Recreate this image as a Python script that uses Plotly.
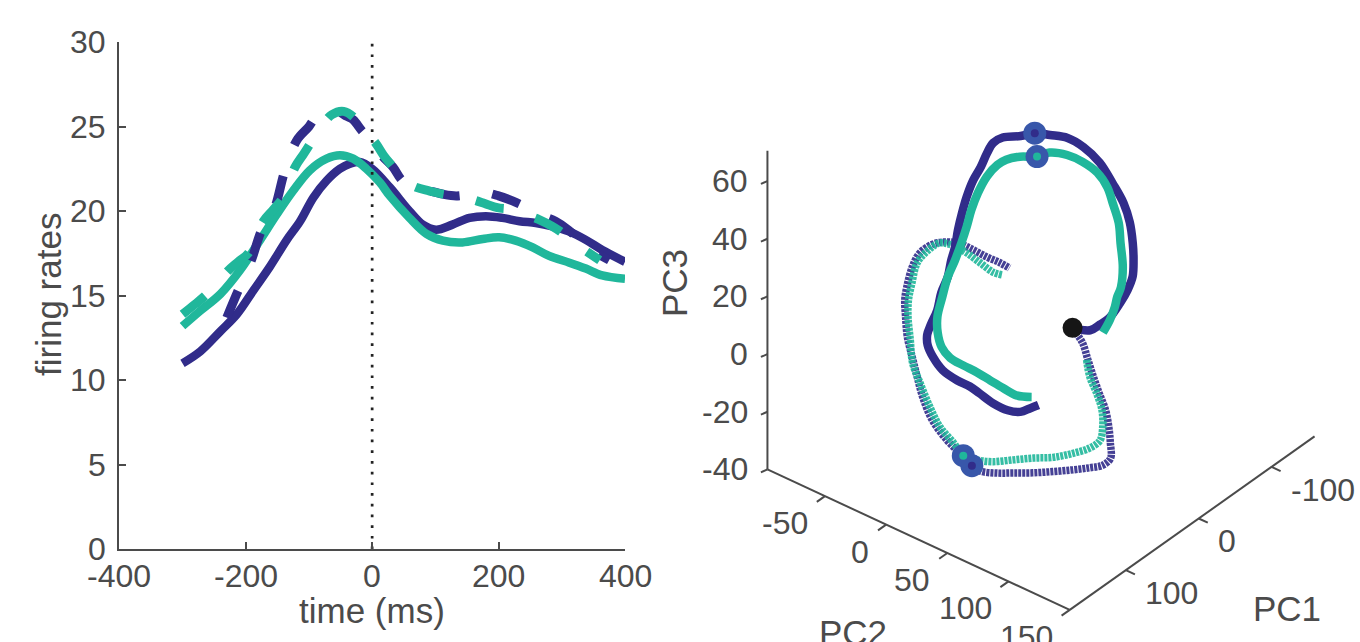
import numpy as np
import plotly.graph_objects as go

# ======================= LEFT PANEL DATA (firing rates) =======================
t_blue_solid = [-300, -272, -240, -214, -188, -162, -135, -114, -93, -72, -51, -35, -20, 0,
                28, 59, 80, 101, 127, 154, 180, 206, 233, 259, 285, 311, 338, 364, 400]
fr_blue_solid = [11.0, 11.7, 12.9, 13.9, 15.3, 16.7, 18.3, 19.4, 20.8, 21.8, 22.5, 22.8, 22.9, 22.5,
                 21.4, 20.0, 19.2, 18.9, 19.2, 19.6, 19.7, 19.6, 19.4, 19.3, 19.1, 18.8, 18.3, 17.7, 17.0]

t_teal_solid = [-300, -272, -240, -209, -177, -151, -125, -99, -72, -51, -30, -9, 12, 28,
                59, 86, 112, 143, 175, 201, 227, 254, 280, 312, 338, 364, 400]
fr_teal_solid = [13.2, 14.1, 15.1, 16.5, 18.3, 19.8, 21.2, 22.4, 23.1, 23.3, 23.1, 22.5, 21.7, 20.9,
                 19.6, 18.65, 18.25, 18.15, 18.35, 18.45, 18.25, 17.85, 17.35, 16.95, 16.6, 16.2, 16.0]

t_teal_dash = [-300, -280, -264, -245, -230, -212, -196, -184, -172, -156, -141, -122, -108, -96,
               -80, -64, -45, -25, -10, 4, 18, 33, 50, 70, 90, 112, 135, 157, 178, 198, 220,
               243, 264, 285, 305, 320, 340, 360]
fr_teal_dash = [13.9, 14.5, 15.0, 15.7, 16.4, 17.0, 17.5, 18.5, 19.4, 20.1, 20.8, 22.6, 23.4, 24.1,
                25.0, 25.7, 25.9, 25.4, 24.6, 24.1, 23.3, 22.6, 21.8, 21.4, 21.2, 21.0, 20.9, 20.7,
                20.45, 20.2, 20.1, 19.8, 19.5, 19.1, 18.6, 18.1, 17.6, 17.1]

t_blue_dash = [-230, -212, -200, -190, -175, -156, -138, -119, -100, -88, -70, -55, -40, -30, -15,
               0, 15, 33, 48, 70, 90, 112, 133, 155, 177, 200, 222, 245, 264, 290, 310, 325, 338,
               356, 375]
fr_blue_dash = [13.7, 15.3, 16.3, 17.2, 18.85, 20.0, 22.4, 24.2, 25.0, 25.6, 25.9, 25.9, 25.6, 25.4,
                24.7, 24.2, 23.3, 22.6, 21.8, 21.4, 21.2, 21.0, 20.9, 21.0, 21.1, 20.9, 20.6, 20.2,
                19.8, 19.4, 18.9, 18.4, 17.9, 17.5, 17.1]

time_ticks = [-400, -200, 0, 200, 400]
time_ticktext = ['-400', '-200', '0', '200', '400']
rate_ticks = [0, 5, 10, 15, 20, 25, 30]
rate_ticktext = ['0', '5', '10', '15', '20', '25', '30']
time_range = [-400, 400]
rate_range = [0, 30]

# ======================= RIGHT PANEL DATA (PC trajectories) =======================
blue_thick_pc1 = [27, 28, 25, 22, 14, 7, 0, -8, -17, -28, -38, -48, -59, -67, -72, -73, -74, -73,
                  -72, -69, -64, -57, -50, -41, -33, -24, -15, -8, 0, 9, 18, 25, 30, 36, 42, 49,
                  54, 57, 61, 66, 69, 70, 68, 67]
blue_thick_pc2 = [63, 78, 84, 90, 94, 96, 96, 92, 86, 77, 66, 51, 34, 16, 0, -15, -28, -39,
                  -53, -59, -61, -62, -64, -64, -63, -61, -58, -57, -55, -55, -53, -54, -54, -50,
                  -42, -30, -15, -3, 7, 21, 35, 46, 53, 59]
blue_thick_pc3 = [13.8, 16.1, 18.7, 21.6, 26.1, 29.8, 33.2, 36.7, 39.8, 43.3, 46.0, 48.2, 50.0,
                  50.4, 49.5, 47.4, 45.3, 42.3, 39.2, 36.7, 33.7, 29.9, 26.2, 22.0, 18.1, 14.1,
                  10.4, 7.2, 3.4, -0.5, -4.7, -8.5, -11.2, -12.9, -14.4, -15.3, -15.0, -14.2,
                  -13.8, -13.6, -12.8, -11.0, -8.7, -6.6]

teal_thick_pc1 = [29, 23, 16, 11, 6, -5, -17, -28, -38, -46, -54, -59, -63, -64, -62, -62, -60,
                  -58, -52, -43, -34, -26, -17, -8, 0, 11, 21, 29, 37, 42, 46, 50, 54, 58, 62, 63]
teal_thick_pc2 = [89, 91, 91, 90, 90, 85, 76, 68, 57, 48, 35, 20, 5, -10, -19, -33, -43, -49,
                  -54, -56, -56, -55, -54, -54, -55, -53, -51, -46, -38, -28, -15, -2, 12, 25,
                  38, 51]
teal_thick_pc3 = [17.6, 21.2, 24.6, 27.0, 29.4, 33.5, 37.9, 41.3, 44.4, 46.5, 47.6, 47.5, 46.2,
                  43.9, 41.1, 38.3, 35.6, 33.0, 29.1, 24.6, 20.3, 16.2, 12.3, 7.8, 3.4, -1.3,
                  -5.9, -9.0, -11.0, -11.9, -11.2, -10.2, -9.7, -9.1, -8.3, -6.1]

blue_thin_pc1 = [29, 35, 43, 52, 61, 69, 78, 86, 94, 98, 99, 100, 101, 102, 102, 102, 101, 98,
                 92, 85, 75, 63, 52, 42, 32, 21, 12, 6, -5, -12, -17, -18, -17, -14, -10, -7, -4]
blue_thin_pc2 = [67, 76, 85, 95, 105, 115, 123, 129, 134, 130, 120, 107, 91, 75, 59, 46, 32, 23,
                 10, -5, -23, -38, -49, -59, -69, -77, -83, -85, -87, -85, -77, -66, -55, -43,
                 -29, -17, -7]
blue_thin_pc3 = [13.1, 12.5, 10.0, 7.5, 5.5, 3.0, 0.3, -2.5, -5.4, -7.9, -10.6, -13.7, -17.3,
                 -20.7, -23.9, -26.5, -28.8, -29.2, -28.6, -28.2, -26.6, -23.7, -20.9, -17.8,
                 -14.5, -11.1, -7.9, -5.1, -0.4, 3.6, 7.4, 10.1, 11.8, 12.7, 13.6, 14.6, 15.2]

teal_thin_pc1 = [43, 52, 61, 69, 78, 85, 89, 92, 94, 94, 95, 96, 95, 93, 86, 78, 68, 55, 45, 33,
                 21, 12, 4, -7, -14, -17, -16, -12, -7, -2, -1]
teal_thin_pc2 = [84, 92, 103, 112, 118, 120, 114, 102, 87, 71, 55, 39, 26, 13, 1, -15, -29, -45,
                 -57, -66, -75, -80, -82, -84, -79, -72, -60, -47, -33, -19, -11]
teal_thin_pc3 = [9.7, 7.0, 5.0, 2.5, -0.5, -3.6, -6.7, -10.4, -14.4, -17.8, -21.4, -25.0, -27.2,
                 -28.6, -27.8, -26.8, -24.6, -21.5, -18.8, -14.8, -10.7, -7.4, -3.5, 1.4, 5.5,
                 8.7, 10.4, 11.2, 11.4, 11.7, 12.5]

# sample index of the marked event (ring) on each trajectory; start sample shown as black dot
event_idx_blue_thick = 16
event_idx_teal_thick = 14
event_idx_blue_thin = 17
event_idx_teal_thin = 13
start_idx = 0

pc1_lim = (-159, 177)
pc2_lim = (-97, 150)
pc3_lim = (-40, 70.5)
pc1_ticks = [-100, 0, 100]
pc2_ticks = [-50, 0, 50, 100, 150]
pc3_ticks = [-40, -20, 0, 20, 40, 60]

# ======================= STYLE =======================
W, H = 1360, 642
BLUE = '#312C8A'
TEAL = '#20B79B'
RING = '#3857AA'
AXC = '#4b4b4b'
FONT = 'Liberation Sans, Arial, Helvetica, sans-serif'
TICK_FS = 32
LABEL_FS = 35
LW = 8.5

# view of the 3-D box (orthographic), MATLAB-like
AZ = np.deg2rad(39.0)
EL = np.deg2rad(35.0)
BOX_PX = 389.0               # pixel length of a box edge
CENTER_PX = (1041.0, 293.6)  # pixel position of box centre
RIGHT_LEFT_PX = 660.0


def norm(v, lim):
    v = np.asarray(v, dtype=float)
    return (v - lim[0]) / (lim[1] - lim[0]) - 0.5


def project(p1, p2, p3):
    u, v, w = norm(p1, pc1_lim), norm(p2, pc2_lim), norm(p3, pc3_lim)
    sx = -np.sin(AZ) * u + np.cos(AZ) * v
    sy = -np.sin(EL) * np.cos(AZ) * u - np.sin(EL) * np.sin(AZ) * v + np.cos(EL) * w
    return sx, sy


def unit(vx, vy):
    n = np.hypot(vx, vy)
    return vx / n, vy / n


fig = go.Figure()
annotations = []
tick_font = dict(family=FONT, size=TICK_FS, color=AXC)

# ---------------- left panel traces ----------------
fig.add_trace(go.Scatter(x=t_blue_solid, y=fr_blue_solid, mode='lines',
                         line=dict(color=BLUE, width=LW, shape='spline'), xaxis='x', yaxis='y'))
fig.add_trace(go.Scatter(x=t_teal_solid, y=fr_teal_solid, mode='lines',
                         line=dict(color=TEAL, width=LW, shape='spline'), xaxis='x', yaxis='y'))
fig.add_trace(go.Scatter(x=t_blue_dash, y=fr_blue_dash, mode='lines',
                         line=dict(color=BLUE, width=LW + 0.5, shape='spline', dash='29px,33px'),
                         xaxis='x', yaxis='y'))
fig.add_trace(go.Scatter(x=t_teal_dash, y=fr_teal_dash, mode='lines',
                         line=dict(color=TEAL, width=LW + 0.5, shape='spline', dash='29px,33px'),
                         xaxis='x', yaxis='y'))
fig.add_trace(go.Scatter(x=[0, 0], y=rate_range, mode='lines',
                         line=dict(color='#222222', width=2.7, dash='2.7px,8px'),
                         xaxis='x', yaxis='y'))

# left tick labels (MATLAB-like placement, hyphen minus)
for v, s in zip(time_ticks, time_ticktext):
    annotations.append(dict(x=v, y=rate_range[0], xref='x', yref='y', text=s, showarrow=False,
                            xanchor='center', yanchor='middle', yshift=-27, font=tick_font))
for v, s in zip(rate_ticks, rate_ticktext):
    annotations.append(dict(x=time_range[0], y=v, xref='x', yref='y', text=s, showarrow=False,
                            xanchor='right', yanchor='middle', xshift=-11, font=tick_font))

# ---------------- right panel: box axes ----------------
P1max, P1min = pc1_lim[1], pc1_lim[0]
P2min, P2max = pc2_lim[0], pc2_lim[1]
P3min, P3max = pc3_lim[0], pc3_lim[1]

ax_x, ax_y = [], []
for a, b in [((P1max, P2min, P3min), (P1max, P2min, P3max)),
             ((P1max, P2min, P3min), (P1max, P2max, P3min)),
             ((P1max, P2max, P3min), (P1min, P2max, P3min))]:
    sa, sb = project(*a), project(*b)
    ax_x += [float(sa[0]), float(sb[0]), None]
    ax_y += [float(sa[1]), float(sb[1]), None]

d1 = unit(-np.sin(AZ), -np.sin(EL) * np.cos(AZ))   # screen direction of +PC1
d2 = unit(np.cos(AZ), -np.sin(EL) * np.sin(AZ))    # screen direction of +PC2
TL = 10.0 / BOX_PX

for v in pc3_ticks:
    sx, sy = project(P1max, P2min, v)
    ax_x += [float(sx), float(sx + d1[0] * TL * 0.8), None]
    ax_y += [float(sy), float(sy + d1[1] * TL * 0.5), None]
    annotations.append(dict(x=float(sx), y=float(sy), xref='x2', yref='y2', text=str(v),
                            showarrow=False, xanchor='right', yanchor='middle', xshift=-17,
                            font=tick_font))
for v in pc2_ticks:
    sx, sy = project(P1max, v, P3min)
    ax_x += [float(sx), float(sx + d1[0] * TL), None]
    ax_y += [float(sy), float(sy + d1[1] * TL), None]
    annotations.append(dict(x=float(sx), y=float(sy), xref='x2', yref='y2', text=str(v),
                            showarrow=False, xanchor='right', yanchor='middle', xshift=-15,
                            yshift=-27, font=tick_font))
for v in pc1_ticks:
    sx, sy = project(v, P2max, P3min)
    ax_x += [float(sx), float(sx + d2[0] * TL), None]
    ax_y += [float(sy), float(sy + d2[1] * TL), None]
    annotations.append(dict(x=float(sx), y=float(sy), xref='x2', yref='y2', text=str(v),
                            showarrow=False, xanchor='left', yanchor='middle', xshift=17,
                            yshift=-23, font=tick_font))

fig.add_trace(go.Scatter(x=ax_x, y=ax_y, mode='lines', line=dict(color=AXC, width=2),
                         xaxis='x2', yaxis='y2'))

# ---------------- right panel: trajectories ----------------
def traj(p1, p2, p3, color, width, dash=None, opacity=1.0):
    sx, sy = project(p1, p2, p3)
    fig.add_trace(go.Scatter(x=sx, y=sy, mode='lines', opacity=opacity,
                             line=dict(color=color, width=width, shape='spline', dash=dash),
                             xaxis='x2', yaxis='y2'))

traj(blue_thin_pc1, blue_thin_pc2, blue_thin_pc3, BLUE, 7.5, dash='3px,1px', opacity=0.9)
traj(teal_thin_pc1, teal_thin_pc2, teal_thin_pc3, TEAL, 7.5, dash='3px,1px', opacity=0.9)
traj(blue_thick_pc1, blue_thick_pc2, blue_thick_pc3, BLUE, LW)
traj(teal_thick_pc1, teal_thick_pc2, teal_thick_pc3, TEAL, LW)

ev = [(blue_thick_pc1, blue_thick_pc2, blue_thick_pc3, event_idx_blue_thick, BLUE),
      (teal_thick_pc1, teal_thick_pc2, teal_thick_pc3, event_idx_teal_thick, TEAL),
      (blue_thin_pc1, blue_thin_pc2, blue_thin_pc3, event_idx_blue_thin, BLUE),
      (teal_thin_pc1, teal_thin_pc2, teal_thin_pc3, event_idx_teal_thin, TEAL)]
ex, ey, ec = [], [], []
for a, b, c, i, col in ev:
    sx, sy = project(a[i], b[i], c[i])
    ex.append(float(sx)); ey.append(float(sy)); ec.append(col)
fig.add_trace(go.Scatter(x=ex, y=ey, mode='markers',
                         marker=dict(symbol='circle', size=23, color=RING, line=dict(width=0)),
                         xaxis='x2', yaxis='y2'))
fig.add_trace(go.Scatter(x=ex, y=ey, mode='markers',
                         marker=dict(symbol='circle', size=8, color=ec, line=dict(width=0)),
                         xaxis='x2', yaxis='y2'))
sx0, sy0 = project(blue_thick_pc1[start_idx], blue_thick_pc2[start_idx], blue_thick_pc3[start_idx])
fig.add_trace(go.Scatter(x=[float(sx0)], y=[float(sy0)], mode='markers',
                         marker=dict(symbol='circle', size=20, color='#161616', line=dict(width=0)),
                         xaxis='x2', yaxis='y2'))

# ---------------- axis titles ----------------
label_font = dict(family=FONT, size=LABEL_FS, color=AXC)
def paper_label(text, px, py, angle=0):
    annotations.append(dict(x=px / W, y=1 - py / H, xref='paper', yref='paper', text=text,
                            showarrow=False, xanchor='center', yanchor='middle',
                            textangle=angle, font=label_font))

paper_label('firing rates', 49, 294, -90)
paper_label('time (ms)', 372, 610)
paper_label('PC3', 674, 283, -90)
paper_label('PC2', 853, 632)
paper_label('PC1', 1287, 608)

# ---------------- layout ----------------
LEFT_X0, LEFT_X1 = 119.3, 625.0
LEFT_Y0, LEFT_Y1 = 549.3, 42.0
cx, cy = CENTER_PX

axis_common = dict(showgrid=False, zeroline=False, showline=True, linecolor=AXC, linewidth=2,
                   ticks='inside', ticklen=7, tickwidth=2, tickcolor=AXC, automargin=False,
                   showticklabels=False, fixedrange=True)

fig.update_layout(
    template='none',
    width=W, height=H, margin=dict(l=0, r=0, t=0, b=0, pad=0), autosize=False,
    paper_bgcolor='white', plot_bgcolor='white', showlegend=False,
    xaxis=dict(domain=[LEFT_X0 / W, LEFT_X1 / W], range=time_range, tickvals=time_ticks,
               anchor='y', **axis_common),
    yaxis=dict(domain=[(H - LEFT_Y0) / H, (H - LEFT_Y1) / H], range=rate_range,
               tickvals=rate_ticks, anchor='x', **axis_common),
    xaxis2=dict(domain=[RIGHT_LEFT_PX / W, 1], range=[(RIGHT_LEFT_PX - cx) / BOX_PX, (W - cx) / BOX_PX],
                visible=False, anchor='y2', fixedrange=True, automargin=False),
    yaxis2=dict(domain=[0, 1], range=[(cy - H) / BOX_PX, cy / BOX_PX], visible=False,
                anchor='x2', fixedrange=True, automargin=False),
    annotations=annotations,
)

fig.write_html('out.html', config={'displayModeBar': False},
               post_script="document.body.style.margin='0';document.body.style.overflow='hidden';")
